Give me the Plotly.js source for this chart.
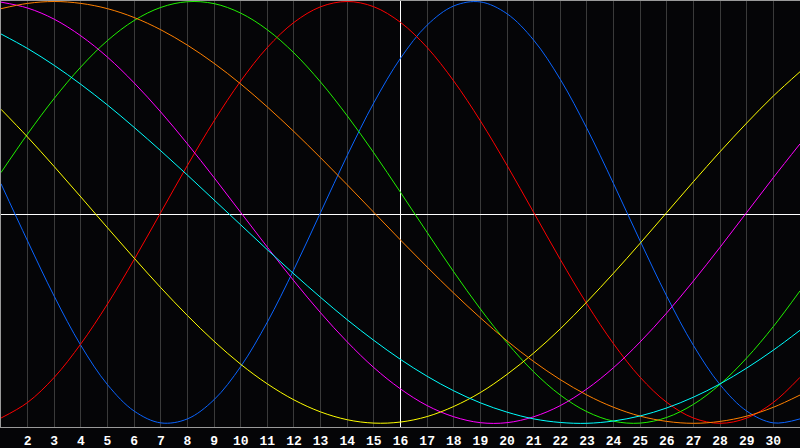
<!DOCTYPE html>
<html>
<head>
<meta charset="utf-8">
<script src="https://cdn.plot.ly/plotly-3.0.1.min.js"></script>
<style>
html,body{margin:0;padding:0;background:#050507;overflow:hidden}
#chart{width:800px;height:448px}
</style>
</head>
<body>
<div id="chart"></div>
<script>
// Days shown on the chart (day 1 at the left edge, day 31 at the right edge)
const days = [1,2,3,4,5,6,7,8,9,10,11,12,13,14,15,16,17,18,19,20,21,22,23,24,25,26,27,28,29,30,31];
const tickDays = [2,3,4,5,6,7,8,9,10,11,12,13,14,15,16,17,18,19,20,21,22,23,24,25,26,27,28,29,30];
const tickLabels = ["2","3","4","5","6","7","8","9","10","11","12","13","14","15","16","17","18","19","20","21","22","23","24","25","26","27","28","29","30"];
const today = 16;

// Cycle values (-1 .. +1)
const physical23 = [0.136,-0.136,-0.398,-0.631,-0.817,-0.942,-0.998,-0.979,-0.888,-0.731,-0.520,-0.270,0.000,0.270,0.520,0.731,0.888,0.979,0.998,0.942,0.817,0.631,0.398,0.136,-0.136,-0.398,-0.631,-0.817,-0.942,-0.998,-0.979];
const emotional28 = [-0.975,-0.901,-0.782,-0.623,-0.434,-0.223,0.000,0.223,0.434,0.623,0.782,0.901,0.975,1.000,0.975,0.901,0.782,0.623,0.434,0.223,0.000,-0.223,-0.434,-0.623,-0.782,-0.901,-0.975,-1.000,-0.975,-0.901,-0.782];
const intellectual33 = [0.189,0.372,0.541,0.690,0.815,0.910,0.972,0.999,0.990,0.945,0.866,0.756,0.618,0.458,0.282,0.095,-0.095,-0.282,-0.458,-0.618,-0.756,-0.866,-0.945,-0.990,-0.999,-0.972,-0.910,-0.815,-0.690,-0.541,-0.372];
const intuitive38 = [0.997,0.969,0.916,0.837,0.736,0.614,0.476,0.325,0.165,0.000,-0.165,-0.325,-0.476,-0.614,-0.736,-0.837,-0.916,-0.969,-0.997,-0.997,-0.969,-0.916,-0.837,-0.736,-0.614,-0.476,-0.325,-0.165,0.000,0.165,0.325];
const aesthetic43 = [0.489,0.357,0.217,0.073,-0.073,-0.217,-0.357,-0.489,-0.611,-0.720,-0.813,-0.889,-0.946,-0.983,-0.999,-0.994,-0.968,-0.920,-0.854,-0.768,-0.667,-0.552,-0.424,-0.288,-0.146,0.000,0.146,0.288,0.424,0.552,0.667];
const awareness48 = [0.966,0.991,1.000,0.991,0.966,0.924,0.866,0.793,0.707,0.609,0.500,0.383,0.259,0.131,0.000,-0.131,-0.259,-0.383,-0.500,-0.609,-0.707,-0.793,-0.866,-0.924,-0.966,-0.991,-1.000,-0.991,-0.966,-0.924,-0.866];
const spiritual53 = [0.846,0.777,0.697,0.607,0.509,0.403,0.292,0.177,0.059,-0.059,-0.177,-0.292,-0.403,-0.509,-0.607,-0.697,-0.777,-0.846,-0.903,-0.947,-0.979,-0.996,-1.000,-0.989,-0.965,-0.927,-0.876,-0.813,-0.738,-0.653,-0.559];

const seriesNames = ["Physical","Emotional","Intellectual","Intuitive","Aesthetic","Awareness","Spiritual"];
const seriesValues = [physical23, emotional28, intellectual33, intuitive38, aesthetic43, awareness48, spiritual53];
const seriesColors = ["#0a64ff","#ff0000","#20f000","#ff00ff","#ffff00","#ff8000","#00ffff"];

const traces = seriesValues.map((vals, i) => ({
  type: 'scatter',
  mode: 'lines',
  name: seriesNames[i],
  x: days,
  y: vals,
  line: {color: seriesColors[i], width: 1, shape: 'spline', smoothing: 1},
  hoverinfo: 'skip'
}));

// invisible helper trace so the overlay axes (today line / centre line) are drawn
traces.unshift({
  type: 'scatter', mode: 'lines', x: [days[0]], y: [0],
  xaxis: 'x2', yaxis: 'y2', showlegend: false, hoverinfo: 'skip',
  line: {color: 'rgba(0,0,0,0)', width: 0}
});

const layout = {
  width: 800,
  height: 448,
  margin: {l: 1, r: 0, t: 1, b: 21, pad: 0},
  paper_bgcolor: '#050507',
  plot_bgcolor: '#050507',
  showlegend: false,
  xaxis: {
    range: [1, 31],
    tickmode: 'array',
    tickvals: tickDays,
    ticktext: tickLabels,
    ticks: '',
    ticklabelstandoff: 1,
    showgrid: true,
    gridcolor: '#3a3a3a',
    gridwidth: 1,
    zeroline: false,
    showline: true,
    linecolor: '#9a9a9a',
    linewidth: 1,
    mirror: true,
    tickfont: {family: 'Liberation Mono, DejaVu Sans Mono, monospace', size: 13, color: '#ffffff', weight: 'bold'},
    fixedrange: true
  },
  yaxis: {
    range: [-1.0175, 1.0024],
    showgrid: false,
    zeroline: false,
    showticklabels: false,
    ticks: '',
    showline: true,
    linecolor: '#9a9a9a',
    linewidth: 1,
    fixedrange: true
  },
  xaxis2: {
    overlaying: 'x',
    range: [1, 31],
    tickmode: 'array',
    tickvals: [today],
    showticklabels: false,
    ticks: '',
    showgrid: true,
    gridcolor: '#ffffff',
    gridwidth: 1,
    zeroline: false,
    showline: false,
    fixedrange: true
  },
  yaxis2: {
    overlaying: 'y',
    range: [-1, 1],
    showgrid: false,
    showticklabels: false,
    ticks: '',
    zeroline: true,
    zerolinecolor: '#ffffff',
    zerolinewidth: 1,
    showline: false,
    fixedrange: true
  }
};

Plotly.newPlot('chart', traces, layout, {staticPlot: true, displayModeBar: false});
</script>
</body>
</html>
